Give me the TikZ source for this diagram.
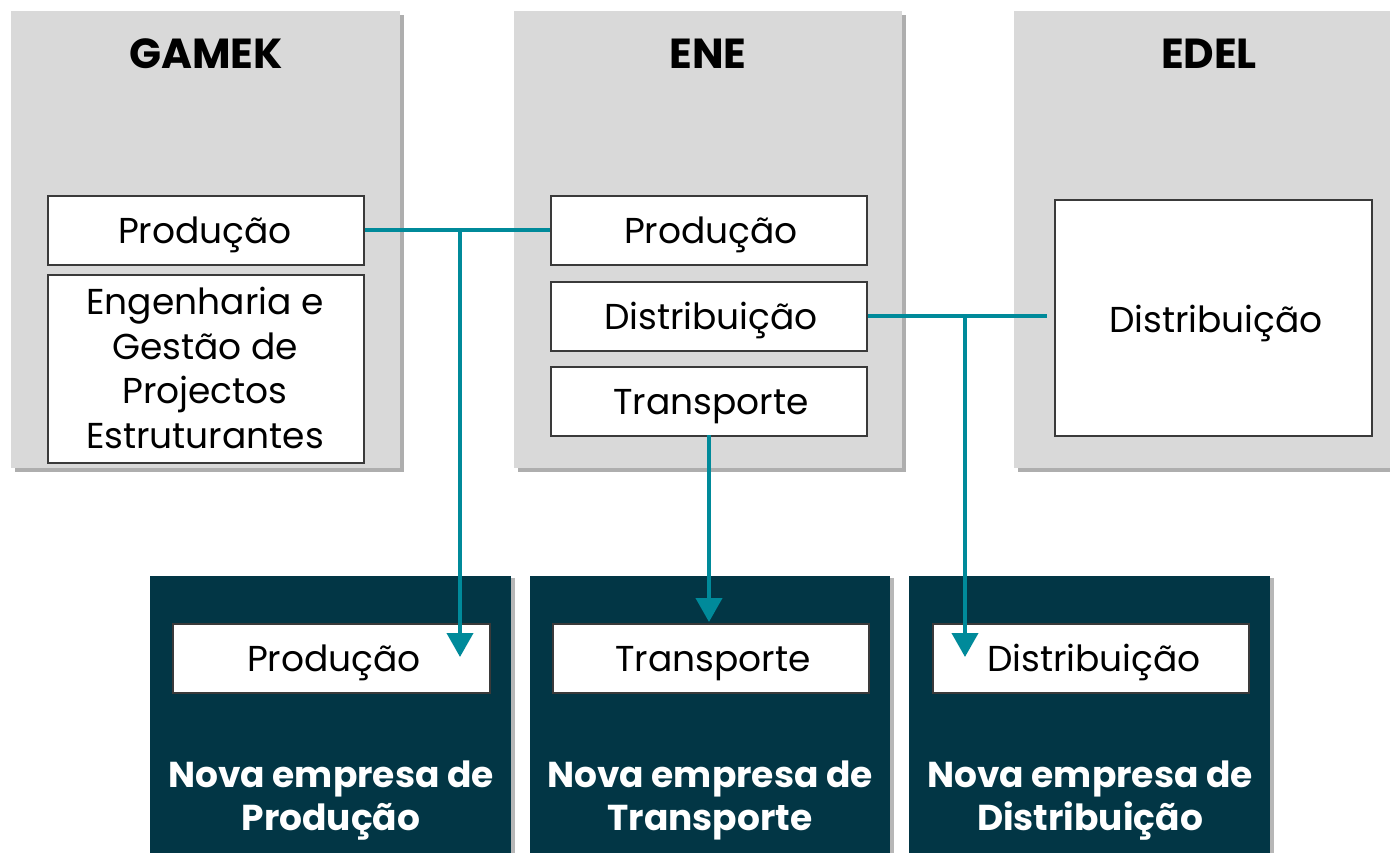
\documentclass[tikz,border=0pt]{standalone}
\usepackage{fontspec}
\setmainfont{Poppins}
\usetikzlibrary{shadows,arrows.meta}
\definecolor{panelgray}{HTML}{D9D9D9}
\definecolor{darkpanel}{HTML}{023645}
\definecolor{lineteal}{HTML}{008A9A}
\definecolor{boxborder}{HTML}{3A3A3A}
\tikzset{
  graypanel/.style={fill=panelgray, draw=none, anchor=north west, inner sep=0,
    drop shadow={shadow xshift=4pt, shadow yshift=-4pt, opacity=0.45, fill=black!70}},
  darkbox/.style={fill=darkpanel, draw=none, anchor=north west, inner sep=0,
    drop shadow={shadow xshift=4pt, shadow yshift=-2pt, opacity=0.4, fill=black!70}},
  unitbox/.style={fill=white, draw=boxborder, line width=1.5pt, anchor=north west, inner sep=0},
  unittxt/.style={anchor=base, inner sep=0, align=center, font=\fontsize{36}{44.5}\selectfont},
  headtxt/.style={anchor=base, inner sep=0, font=\fontsize{42}{48}\selectfont\bfseries, text=black},
  newtxt/.style={anchor=base, inner sep=0, font=\fontsize{36}{43}\selectfont\bfseries, text=white, align=center},
  conn/.style={draw=lineteal, line width=4pt},
  arr/.style={conn, -{Triangle[width=26pt,length=24pt]}}
}
\begin{document}
\begin{tikzpicture}[x=1pt,y=-1pt]
\useasboundingbox (0,0) rectangle (1390,852);
% top panels
\node[graypanel, minimum width=389, minimum height=457] (pg) at (11,11) {};
\node[graypanel, minimum width=388, minimum height=457] (pe) at (514,11) {};
\node[graypanel, minimum width=390, minimum height=457] (pd) at (1014,11) {};
\node[headtxt] (tg) at (206,68) {GAMEK};
\node[headtxt] (te) at (708,68) {ENE};
\node[headtxt] (td) at (1209,68) {EDEL};
% GAMEK boxes
\node[unitbox, minimum width=316, minimum height=69] (gprod) at (47,195) {};
\node[unittxt] (gprodt) at (205,243) {Produção};
\node[unitbox, minimum width=316, minimum height=188] (geng) at (47,274) {};
\node[unittxt] (gengt) at (205,448) {Engenharia e\\Gestão de\\Projectos\\Estruturantes};
% ENE boxes
\node[unitbox, minimum width=316, minimum height=69] (eprod) at (550,195) {};
\node[unittxt] (eprodt) at (711,243) {Produção};
\node[unitbox, minimum width=316, minimum height=69] (edist) at (550,281) {};
\node[unittxt] (edistt) at (711,329) {Distribuição};
\node[unitbox, minimum width=316, minimum height=69] (etran) at (550,366) {};
\node[unittxt] (etrant) at (711,414) {Transporte};
% EDEL box
\node[unitbox, minimum width=317, minimum height=236] (ddist) at (1054,199) {};
\node[unittxt] (ddistt) at (1216,332) {Distribuição};
% bottom panels
\node[darkbox, minimum width=361, minimum height=280] (np) at (150,576) {};
\node[darkbox, minimum width=360, minimum height=280] (nt) at (530,576) {};
\node[darkbox, minimum width=361, minimum height=280] (nd) at (909,576) {};
\node[unitbox, minimum width=317, minimum height=69] (bprod) at (172,623) {};
\node[unittxt] (bprodt) at (334,671) {Produção};
\node[unitbox, minimum width=316, minimum height=69] (btran) at (552,623) {};
\node[unittxt] (btrant) at (713,671) {Transporte};
\node[unitbox, minimum width=316, minimum height=69] (bdist) at (932,623) {};
\node[unittxt] (bdistt) at (1094,671) {Distribuição};
\node[newtxt] (npt) at (331,830) {Nova empresa de\\Produção};
\node[newtxt] (ntt) at (710,830) {Nova empresa de\\Transporte};
\node[newtxt] (ndt) at (1090,830) {Nova empresa de\\Distribuição};
% connectors
\coordinate (j1) at (460,230);
\coordinate (a1) at (460,657);
\coordinate (j2) at (965,316);
\coordinate (e2) at (1047,316);
\coordinate (a2) at (965,657);
\coordinate (t0) at (709,435);
\coordinate (a3) at (709,622);
\draw[conn] (gprod.east |- j1) -- (eprod.west |- j1);
\draw[arr] (j1) -- (a1);
\draw[conn] (edist.east |- j2) -- (e2);
\draw[arr] (j2) -- (a2);
\draw[arr] (t0) -- (a3);
\end{tikzpicture}
\end{document}
